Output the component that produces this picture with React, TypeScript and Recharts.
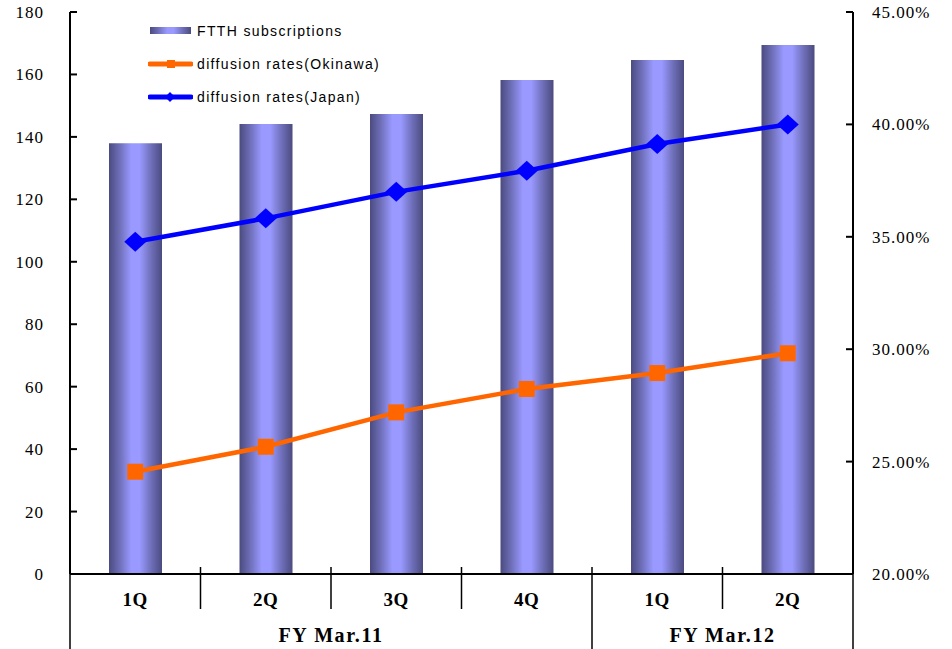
import {
  ComposedChart,
  Bar,
  Line,
  XAxis,
  YAxis,
  Legend,
} from "recharts";

// quarterly FTTH figures and diffusion rates
const quarters = ["1Q", "2Q", "3Q", "4Q", "1Q", "2Q"];
const fiscalYears = [
  "FY Mar.11",
  "FY Mar.11",
  "FY Mar.11",
  "FY Mar.11",
  "FY Mar.12",
  "FY Mar.12",
];
const ftthSubscriptions = [138, 144.1, 147.3, 158.2, 164.6, 169.4];
const okinawaRates = [24.55, 25.66, 27.19, 28.23, 28.94, 29.82];
const japanRates = [34.78, 35.82, 37.0, 37.94, 39.13, 40.0];

const leftTicks = [0, 20, 40, 60, 80, 100, 120, 140, 160, 180];
const rightTicks = [20, 25, 30, 35, 40, 45];

const data = quarters.map((q, i) => ({
  key: String(i),
  quarter: q,
  fy: fiscalYears[i],
  ftth: ftthSubscriptions[i],
  okinawa: okinawaRates[i],
  japan: japanRates[i],
}));

// layout
const WIDTH = 952;
const HEIGHT = 649;
const LEFT_AXIS_W = 70;
const RIGHT_AXIS_W = 99;
const X_AXIS_H = 75;
const TOP = 12;
const BAND = (WIDTH - LEFT_AXIS_W - RIGHT_AXIS_W) / quarters.length;

const SERIF = "'Liberation Serif', 'Times New Roman', serif";
const SANS = "'Liberation Sans', Arial, sans-serif";
const ORANGE = "#FF6600";
const BLUE = "#0000FF";

function LeftTick({ x, y, payload }: any) {
  return (
    <g>
      <line x1={x} y1={y} x2={x + 7} y2={y} stroke="#000" strokeWidth={2} />
      <text
        x={x - 26}
        y={y}
        dy={6}
        textAnchor="end"
        fontFamily={SERIF}
        fontSize={17}
        letterSpacing={1}
        fill="#000"
      >
        {payload.value}
      </text>
    </g>
  );
}

function RightTick({ x, y, payload }: any) {
  return (
    <g>
      <line x1={x - 7} y1={y} x2={x} y2={y} stroke="#000" strokeWidth={2} />
      <text
        x={x + 19}
        y={y}
        dy={6}
        textAnchor="start"
        fontFamily={SERIF}
        fontSize={17}
        letterSpacing={1}
        fill="#000"
      >
        {payload.value.toFixed(2)}%
      </text>
    </g>
  );
}

function QuarterTick({ x, y, index }: any) {
  const i = index as number;
  const right = x + BAND / 2;
  const left = x - BAND / 2;
  const isLast = i === quarters.length - 1;
  const groupEnd = isLast || fiscalYears[i] !== fiscalYears[i + 1];
  const groupStart = i === 0 || fiscalYears[i] !== fiscalYears[i - 1];
  let groupSize = 0;
  if (groupStart) {
    while (
      i + groupSize < fiscalYears.length &&
      fiscalYears[i + groupSize] === fiscalYears[i]
    ) {
      groupSize++;
    }
  }
  return (
    <g>
      <text
        x={x}
        y={y + 32}
        textAnchor="middle"
        fontFamily={SERIF}
        fontWeight="bold"
        fontSize={19}
        letterSpacing={0.5}
        fill="#000"
      >
        {quarters[i]}
      </text>
      {i === 0 && (
        <line x1={left} y1={y} x2={left} y2={HEIGHT} stroke="#000" strokeWidth={1.5} />
      )}
      {isLast ? (
        <line x1={right} y1={y} x2={right} y2={HEIGHT} stroke="#000" strokeWidth={1.5} />
      ) : (
        <line
          x1={right}
          y1={y - 7}
          x2={right}
          y2={groupEnd ? HEIGHT : y + 35}
          stroke="#000"
          strokeWidth={1.5}
        />
      )}
      {groupStart && (
        <text
          x={left + (groupSize * BAND) / 2}
          y={y + 68}
          textAnchor="middle"
          fontFamily={SERIF}
          fontWeight="bold"
          fontSize={20}
          letterSpacing={1.6}
          fill="#000"
        >
          {fiscalYears[i]}
        </text>
      )}
    </g>
  );
}

function SquareDot({ cx, cy }: any) {
  const s = 16;
  return <rect x={cx - s / 2} y={cy - s / 2} width={s} height={s} fill={ORANGE} />;
}

function DiamondDot({ cx, cy }: any) {
  const w = 11;
  const h = 10;
  return (
    <polygon
      points={`${cx - w},${cy} ${cx},${cy - h} ${cx + w},${cy} ${cx},${cy + h}`}
      fill={BLUE}
    />
  );
}

function LegendContent() {
  const row = { display: "flex", alignItems: "center", height: 33 } as const;
  const label = {
    fontFamily: SANS,
    fontSize: 14,
    letterSpacing: 1.35,
    color: "#000",
    marginLeft: 4,
  } as const;
  return (
    <div>
      <div style={row}>
        <svg width={45} height={10}>
          <rect x={2} y={1} width={41} height={7} fill="url(#barShade)" />
        </svg>
        <span style={label}>FTTH subscriptions</span>
      </div>
      <div style={row}>
        <svg width={45} height={12}>
          <line x1={2} y1={6} x2={43} y2={6} stroke={ORANGE} strokeWidth={5} strokeLinecap="round" />
          <rect x={19} y={2} width={8} height={8} fill={ORANGE} />
        </svg>
        <span style={label}>diffusion rates(Okinawa)</span>
      </div>
      <div style={row}>
        <svg width={45} height={12}>
          <line x1={2} y1={6} x2={43} y2={6} stroke={BLUE} strokeWidth={5} strokeLinecap="round" />
          <polygon points="17,6 22,1 27,6 22,11" fill={BLUE} />
        </svg>
        <span style={label}>diffusion rates(Japan)</span>
      </div>
    </div>
  );
}

export default function App() {
  return (
    <div style={{ position: "absolute", left: 0, top: 0, background: "#fff" }}>
      <ComposedChart
        width={WIDTH}
        height={HEIGHT}
        data={data}
        margin={{ top: TOP, right: 0, bottom: 0, left: 0 }}
      >
        <defs>
          <linearGradient id="barShade" x1="0" y1="0" x2="1" y2="0">
            <stop offset="0%" stopColor="#4B4B80" />
            <stop offset="20%" stopColor="#6E6EB8" />
            <stop offset="42%" stopColor="#9999FF" />
            <stop offset="58%" stopColor="#9999FF" />
            <stop offset="80%" stopColor="#6E6EB8" />
            <stop offset="100%" stopColor="#4B4B80" />
          </linearGradient>
        </defs>
        <XAxis
          dataKey="key"
          height={X_AXIS_H}
          axisLine={{ stroke: "#000", strokeWidth: 2 }}
          tickLine={false}
          tickSize={0}
          tickMargin={0}
          interval={0}
          tick={<QuarterTick />}
        />
        <YAxis
          yAxisId="left"
          width={LEFT_AXIS_W}
          domain={[0, 180]}
          ticks={leftTicks}
          interval={0}
          axisLine={{ stroke: "#000", strokeWidth: 2 }}
          tickLine={false}
          tickSize={0}
          tickMargin={0}
          tick={<LeftTick />}
        />
        <YAxis
          yAxisId="right"
          orientation="right"
          width={RIGHT_AXIS_W}
          domain={[20, 45]}
          ticks={rightTicks}
          interval={0}
          axisLine={{ stroke: "#000", strokeWidth: 2 }}
          tickLine={false}
          tickSize={0}
          tickMargin={0}
          tick={<RightTick />}
        />
        <Legend
          layout="vertical"
          verticalAlign="middle"
          align="center"
          wrapperStyle={{ top: 14, left: 148, width: "auto", height: "auto" }}
          content={<LegendContent />}
        />
        <Bar
          yAxisId="left"
          dataKey="ftth"
          name="FTTH subscriptions"
          fill="url(#barShade)"
          barSize={53}
          isAnimationActive={false}
        />
        <Line
          yAxisId="right"
          dataKey="okinawa"
          name="diffusion rates(Okinawa)"
          stroke={ORANGE}
          strokeWidth={4.5}
          dot={<SquareDot />}
          activeDot={false}
          isAnimationActive={false}
        />
        <Line
          yAxisId="right"
          dataKey="japan"
          name="diffusion rates(Japan)"
          stroke={BLUE}
          strokeWidth={4.5}
          dot={<DiamondDot />}
          activeDot={false}
          isAnimationActive={false}
        />
      </ComposedChart>
    </div>
  );
}
